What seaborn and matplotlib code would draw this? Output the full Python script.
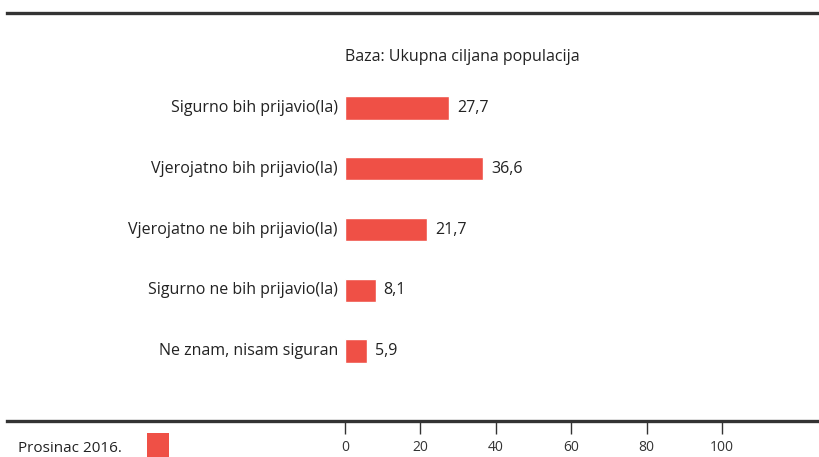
import matplotlib
matplotlib.use("Agg")
import matplotlib.pyplot as plt
import seaborn as sns
import pandas as pd
from matplotlib.patches import Rectangle

categories = [
    "Sigurno bih prijavio(la)",
    "Vjerojatno bih prijavio(la)",
    "Vjerojatno ne bih prijavio(la)",
    "Sigurno ne bih prijavio(la)",
    "Ne znam, nisam siguran",
]
values = [27.7, 36.6, 21.7, 8.1, 5.9]
value_labels = ["27,7", "36,6", "21,7", "8,1", "5,9"]
xticks = [0, 20, 40, 60, 80, 100]
series_name = "Prosinac 2016."
title = "Baza: Ukupna ciljana populacija"

RED = "#EF5046"
DARK = "#333333"

sns.set_theme(style="white")
plt.rcParams["font.family"] = ["Open Sans", "DejaVu Sans"]

df = pd.DataFrame({"cat": categories, "val": values})

fig = plt.figure(figsize=(8.2, 4.57), dpi=100)
W, H = 820, 457
ax = fig.add_axes([7 / W, 1 - 421 / H, (820 - 7) / W, (421 - 13) / H])

sns.barplot(data=df, x="val", y="cat", orient="h", color=RED, saturation=1,
            width=0.38, ax=ax, order=categories)

ppu = 3.77
ax.set_xlim(-(345 - 7) / ppu, (820 - 345) / ppu)
ax.set_ylim(5.152, -1.564)

ax.set_xticks(xticks)
ax.set_xticklabels([str(t) for t in xticks], fontsize=10, color=DARK)
ax.tick_params(axis="x", direction="out", length=9, width=1, color=DARK,
               bottom=True, pad=5)
ax.set_yticks([])
ax.set_xlabel("")
ax.set_ylabel("")

for s in ["left", "right"]:
    ax.spines[s].set_visible(False)
for s in ["top", "bottom"]:
    ax.spines[s].set_visible(True)
    ax.spines[s].set_color(DARK)
    ax.spines[s].set_linewidth(2.4)

for i, (cat, v, lab) in enumerate(zip(categories, values, value_labels)):
    ax.text(-7 / ppu, i, cat, ha="right", va="center", fontsize=11.5, color="#222222")
    ax.text(v + 8 / ppu, i, lab, ha="left", va="center", fontsize=11.5, color="#222222")

fig.text(462 / W, 1 - 57 / H, title, ha="center", va="center", fontsize=11.5, color="#222222")

fig.text(18 / W, 1 - 449 / H, series_name, ha="left", va="center", fontsize=11, color="#222222")
fig.patches.append(Rectangle((147 / W, 0), 22 / W, 24 / H, transform=fig.transFigure,
                             facecolor=RED, edgecolor="none"))

fig.savefig("out.png", dpi=100)
